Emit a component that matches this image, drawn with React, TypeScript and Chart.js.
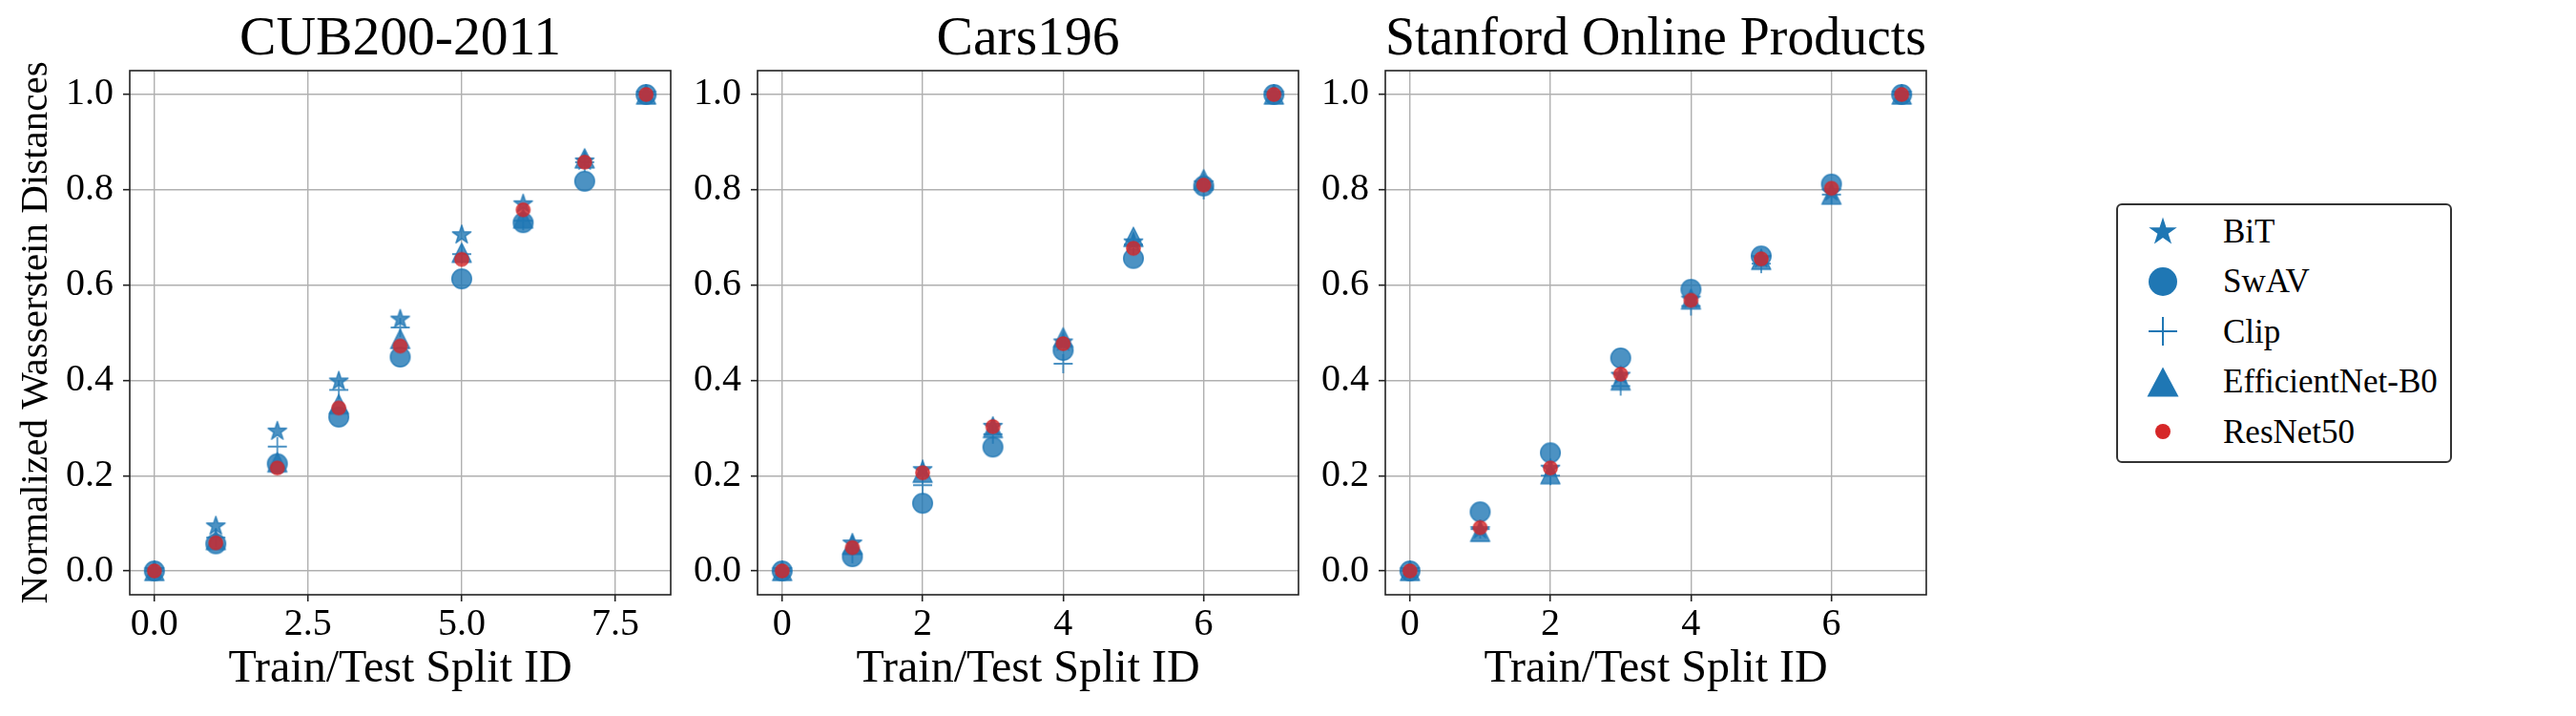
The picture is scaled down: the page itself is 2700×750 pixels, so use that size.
import React, { useEffect, useRef } from 'react';
import { Chart, registerables } from 'chart.js';

Chart.register(...registerables);

// ---------------- data ----------------
const MODEL_NAMES = ['BiT', 'SwAV', 'Clip', 'EfficientNet-B0', 'ResNet50'];
const PANEL_TITLES = ['CUB200-2011', 'Cars196', 'Stanford Online Products'];
const X_LABEL = 'Train/Test Split ID';
const Y_LABEL = 'Normalized Wasserstein Distances';

const CUB_SPLITS = [0, 1, 2, 3, 4, 5, 6, 7, 8];
const CUB_BIT = [0, 0.094, 0.293, 0.398, 0.528, 0.705, 0.77, 0.86, 1.0];
const CUB_SWAV = [0, 0.057, 0.225, 0.323, 0.449, 0.613, 0.731, 0.818, 1.0];
const CUB_CLIP = [0, 0.07, 0.261, 0.38, 0.511, 0.665, 0.735, 0.858, 1.0];
const CUB_EFFNET = [0, 0.065, 0.228, 0.35, 0.487, 0.668, 0.74, 0.866, 1.0];
const CUB_RESNET = [0, 0.059, 0.216, 0.342, 0.472, 0.654, 0.758, 0.858, 1.0];

const CARS_SPLITS = [0, 1, 2, 3, 4, 5, 6, 7];
const CARS_BIT = [0, 0.058, 0.212, 0.303, 0.48, 0.69, 0.812, 1.0];
const CARS_SWAV = [0, 0.03, 0.142, 0.26, 0.463, 0.656, 0.808, 1.0];
const CARS_CLIP = [0, 0.036, 0.18, 0.287, 0.435, 0.685, 0.8, 1.0];
const CARS_EFFNET = [0, 0.055, 0.206, 0.3, 0.49, 0.701, 0.822, 1.0];
const CARS_RESNET = [0, 0.049, 0.206, 0.303, 0.477, 0.677, 0.81, 1.0];

const SOP_SPLITS = [0, 1, 2, 3, 4, 5, 6, 7];
const SOP_BIT = [0, 0.086, 0.215, 0.41, 0.57, 0.655, 0.795, 1.0];
const SOP_SWAV = [0, 0.124, 0.248, 0.447, 0.591, 0.661, 0.812, 1.0];
const SOP_CLIP = [0, 0.088, 0.2, 0.388, 0.556, 0.645, 0.79, 1.0];
const SOP_EFFNET = [0, 0.082, 0.203, 0.4, 0.57, 0.653, 0.79, 1.0];
const SOP_RESNET = [0, 0.091, 0.216, 0.413, 0.568, 0.655, 0.803, 1.0];

const CUB_X_TICKS = [0, 2.5, 5, 7.5];
const INT_X_TICKS = [0, 2, 4, 6];
const Y_TICKS = [0, 0.2, 0.4, 0.6, 0.8, 1.0];

// ---------------- style ----------------
const FONT = '"Liberation Serif", "Times New Roman", Times, serif';
const BLUE = '#1f77b4';
const RED = '#d62728';
const MARKER_ALPHA = 0.8;

type Kind = 'star' | 'circle' | 'plus' | 'triangle' | 'dot';
const MODEL_KINDS: Kind[] = ['star', 'circle', 'plus', 'triangle', 'dot'];
const MODEL_COLORS = [BLUE, BLUE, BLUE, BLUE, RED];

const PANELS = [
  {
    title: PANEL_TITLES[0], splits: CUB_SPLITS,
    values: [CUB_BIT, CUB_SWAV, CUB_CLIP, CUB_EFFNET, CUB_RESNET],
    xMin: -0.4, xMax: 8.4, xTicks: CUB_X_TICKS, xDecimals: 1, showYTitle: true, left: 0,
  },
  {
    title: PANEL_TITLES[1], splits: CARS_SPLITS,
    values: [CARS_BIT, CARS_SWAV, CARS_CLIP, CARS_EFFNET, CARS_RESNET],
    xMin: -0.35, xMax: 7.35, xTicks: INT_X_TICKS, xDecimals: 0, showYTitle: false, left: 658,
  },
  {
    title: PANEL_TITLES[2], splits: SOP_SPLITS,
    values: [SOP_BIT, SOP_SWAV, SOP_CLIP, SOP_EFFNET, SOP_RESNET],
    xMin: -0.35, xMax: 7.35, xTicks: INT_X_TICKS, xDecimals: 0, showYTitle: false, left: 1316,
  },
];

const CANVAS_W = 743;
const CANVAS_H = 750;
const Y_AXIS_W = 136;
const X_AXIS_H = 127;

function traceMarker(ctx: CanvasRenderingContext2D, kind: Kind, s: number) {
  ctx.beginPath();
  if (kind === 'circle' || kind === 'dot') {
    ctx.arc(0, 0, s, 0, Math.PI * 2);
  } else if (kind === 'star') {
    const inner = s * 0.381966;
    for (let k = 0; k < 10; k++) {
      const a = -Math.PI / 2 + (k * Math.PI) / 5;
      const rr = k % 2 === 0 ? s : inner;
      const px = rr * Math.cos(a);
      const py = rr * Math.sin(a);
      if (k === 0) ctx.moveTo(px, py);
      else ctx.lineTo(px, py);
    }
    ctx.closePath();
  } else if (kind === 'triangle') {
    ctx.moveTo(0, -s);
    ctx.lineTo(-s, s);
    ctx.lineTo(s, s);
    ctx.closePath();
  } else if (kind === 'plus') {
    ctx.moveTo(-s, 0);
    ctx.lineTo(s, 0);
    ctx.moveTo(0, -s);
    ctx.lineTo(0, s);
  }
}

const MARKER_SPEC: Record<Kind, { s: number; lw: number }> = {
  star: { s: 10.2, lw: 1.5 },
  circle: { s: 10.3, lw: 1.5 },
  plus: { s: 10, lw: 1.8 },
  triangle: { s: 10, lw: 1.5 },
  dot: { s: 7.2, lw: 1.3 },
};

function makeMarker(kind: Kind, color: string): HTMLCanvasElement {
  const dim = 32;
  const c = document.createElement('canvas');
  c.width = dim;
  c.height = dim;
  const ctx = c.getContext('2d')!;
  ctx.translate(dim / 2, dim / 2);
  const { s, lw } = MARKER_SPEC[kind];
  ctx.globalAlpha = MARKER_ALPHA;
  ctx.fillStyle = color;
  ctx.strokeStyle = color;
  ctx.lineWidth = lw;
  ctx.lineJoin = 'round';
  traceMarker(ctx, kind, s);
  if (kind !== 'plus') ctx.fill();
  ctx.stroke();
  return c;
}

const framePlugin = {
  id: 'axesFrame',
  afterDatasetsDraw(chart: any) {
    const { ctx, chartArea } = chart;
    const { left, top, right, bottom } = chartArea;
    ctx.save();
    ctx.strokeStyle = '#222';
    ctx.lineWidth = 1.6;
    ctx.strokeRect(left, top, right - left, bottom - top);
    ctx.restore();
  },
};

function Panel({ idx }: { idx: number }) {
  const ref = useRef<HTMLCanvasElement | null>(null);
  useEffect(() => {
    const p = PANELS[idx];
    const canvas = ref.current!;
    const datasets = MODEL_NAMES.map((name, i) => ({
      label: name,
      data: p.splits.map((x, j) => ({ x, y: p.values[i][j] })),
      pointStyle: makeMarker(MODEL_KINDS[i], MODEL_COLORS[i]) as any,
      pointRadius: 11,
      pointHoverRadius: 11,
      showLine: false,
      order: MODEL_NAMES.length - i,
    }));
    const tickFont = { family: FONT, size: 40, weight: 'normal' as const };
    const chart = new Chart(canvas, {
      type: 'scatter',
      data: { datasets },
      options: {
        responsive: false,
        maintainAspectRatio: false,
        animation: false,
        events: [],
        layout: { padding: { left: 0, right: CANVAS_W - Y_AXIS_W - 567, top: 0, bottom: 0 } },
        plugins: {
          legend: { display: false },
          tooltip: { enabled: false },
          title: {
            display: true,
            text: p.title,
            fullSize: false,
            color: '#000',
            font: { family: FONT, size: 57.6, weight: 'normal', lineHeight: 1 },
            padding: { top: 13.2, bottom: 3.2 },
          },
        },
        scales: {
          x: {
            type: 'linear',
            position: 'bottom',
            min: p.xMin,
            max: p.xMax,
            afterBuildTicks: (s: any) => {
              s.ticks = p.xTicks.map((v) => ({ value: v }));
            },
            afterFit: (s: any) => {
              s.height = X_AXIS_H;
            },
            ticks: {
              autoSkip: false,
              maxRotation: 0,
              minRotation: 0,
              padding: 0,
              color: '#000',
              font: tickFont,
              callback: (v: any) => Number(v).toFixed(p.xDecimals),
            },
            grid: {
              color: '#b0b0b0',
              lineWidth: 1.4,
              drawTicks: true,
              tickLength: 7,
              tickColor: '#222',
              tickWidth: 1.6,
            },
            border: { display: false },
            title: {
              display: true,
              text: X_LABEL,
              color: '#000',
              font: { family: FONT, size: 48, lineHeight: 1.2 },
              padding: { top: 0, bottom: 20 },
            },
          },
          y: {
            type: 'linear',
            position: 'left',
            min: -0.05,
            max: 1.05,
            afterBuildTicks: (s: any) => {
              s.ticks = Y_TICKS.map((v) => ({ value: v }));
            },
            afterFit: (s: any) => {
              s.width = Y_AXIS_W;
            },
            ticks: {
              autoSkip: false,
              padding: 10,
              color: '#000',
              font: tickFont,
              callback: (v: any) => Number(v).toFixed(1),
            },
            grid: {
              color: '#b0b0b0',
              lineWidth: 1.4,
              drawTicks: true,
              tickLength: 7,
              tickColor: '#222',
              tickWidth: 1.6,
            },
            border: { display: false },
            title: {
              display: p.showYTitle,
              text: Y_LABEL,
              color: '#000',
              font: { family: FONT, size: 41, lineHeight: 1.2 },
              padding: { top: 13.3, bottom: 0 },
            },
          },
        },
      } as any,
      plugins: [framePlugin],
    });
    return () => chart.destroy();
  }, [idx]);
  return (
    <canvas
      ref={ref}
      width={CANVAS_W}
      height={CANVAS_H}
      style={{ position: 'absolute', left: PANELS[idx].left, top: 0, width: CANVAS_W, height: CANVAS_H }}
    />
  );
}

function starPoints(cx: number, cy: number, R: number): string {
  const pts: string[] = [];
  for (let k = 0; k < 10; k++) {
    const a = -Math.PI / 2 + (k * Math.PI) / 5;
    const rr = k % 2 === 0 ? R : R * 0.381966;
    pts.push(`${(cx + rr * Math.cos(a)).toFixed(2)},${(cy + rr * Math.sin(a)).toFixed(2)}`);
  }
  return pts.join(' ');
}

function LegendMarker({ kind, color }: { kind: Kind; color: string }) {
  const c = 20;
  let el: React.ReactNode = null;
  if (kind === 'star') el = <polygon points={starPoints(c, c + 1, 15.5)} fill={color} />;
  else if (kind === 'circle') el = <circle cx={c} cy={c} r={15} fill={color} />;
  else if (kind === 'plus')
    el = (
      <path d={`M${c - 15} ${c} L${c + 15} ${c} M${c} ${c - 15} L${c} ${c + 15}`} stroke={color} strokeWidth={2} fill="none" />
    );
  else if (kind === 'triangle') el = <polygon points={`${c},${c - 15.5} ${c - 16.5},${c + 15.5} ${c + 16.5},${c + 15.5}`} fill={color} />;
  else el = <circle cx={c} cy={c} r={8} fill={color} />;
  return (
    <svg width={40} height={40} style={{ position: 'absolute', left: 27, top: -20 + 25 }}>
      {el}
    </svg>
  );
}

function Legend() {
  return (
    <div
      style={{
        position: 'absolute',
        left: 2218,
        top: 213,
        width: 352,
        height: 272,
        boxSizing: 'border-box',
        border: '2px solid #333',
        borderRadius: 6,
        background: '#fff',
      }}
    >
      {MODEL_NAMES.map((name, i) => (
        <div key={name} style={{ position: 'absolute', left: 0, top: 27 + i * 52.5 - 25, width: 348, height: 50 }}>
          <LegendMarker kind={MODEL_KINDS[i]} color={MODEL_COLORS[i]} />
          <div
            style={{
              position: 'absolute',
              left: 110,
              top: 25 - 17.5,
              height: 35,
              lineHeight: '35px',
              fontFamily: FONT,
              fontSize: 35,
              color: '#000',
              whiteSpace: 'nowrap',
            }}
          >
            {name}
          </div>
        </div>
      ))}
    </div>
  );
}

export default function App() {
  return (
    <div style={{ position: 'absolute', left: 0, top: 0, width: 2700, height: 750, background: '#fff', overflow: 'hidden' }}>
      {PANELS.map((_, i) => (
        <Panel key={i} idx={i} />
      ))}
      <Legend />
    </div>
  );
}
